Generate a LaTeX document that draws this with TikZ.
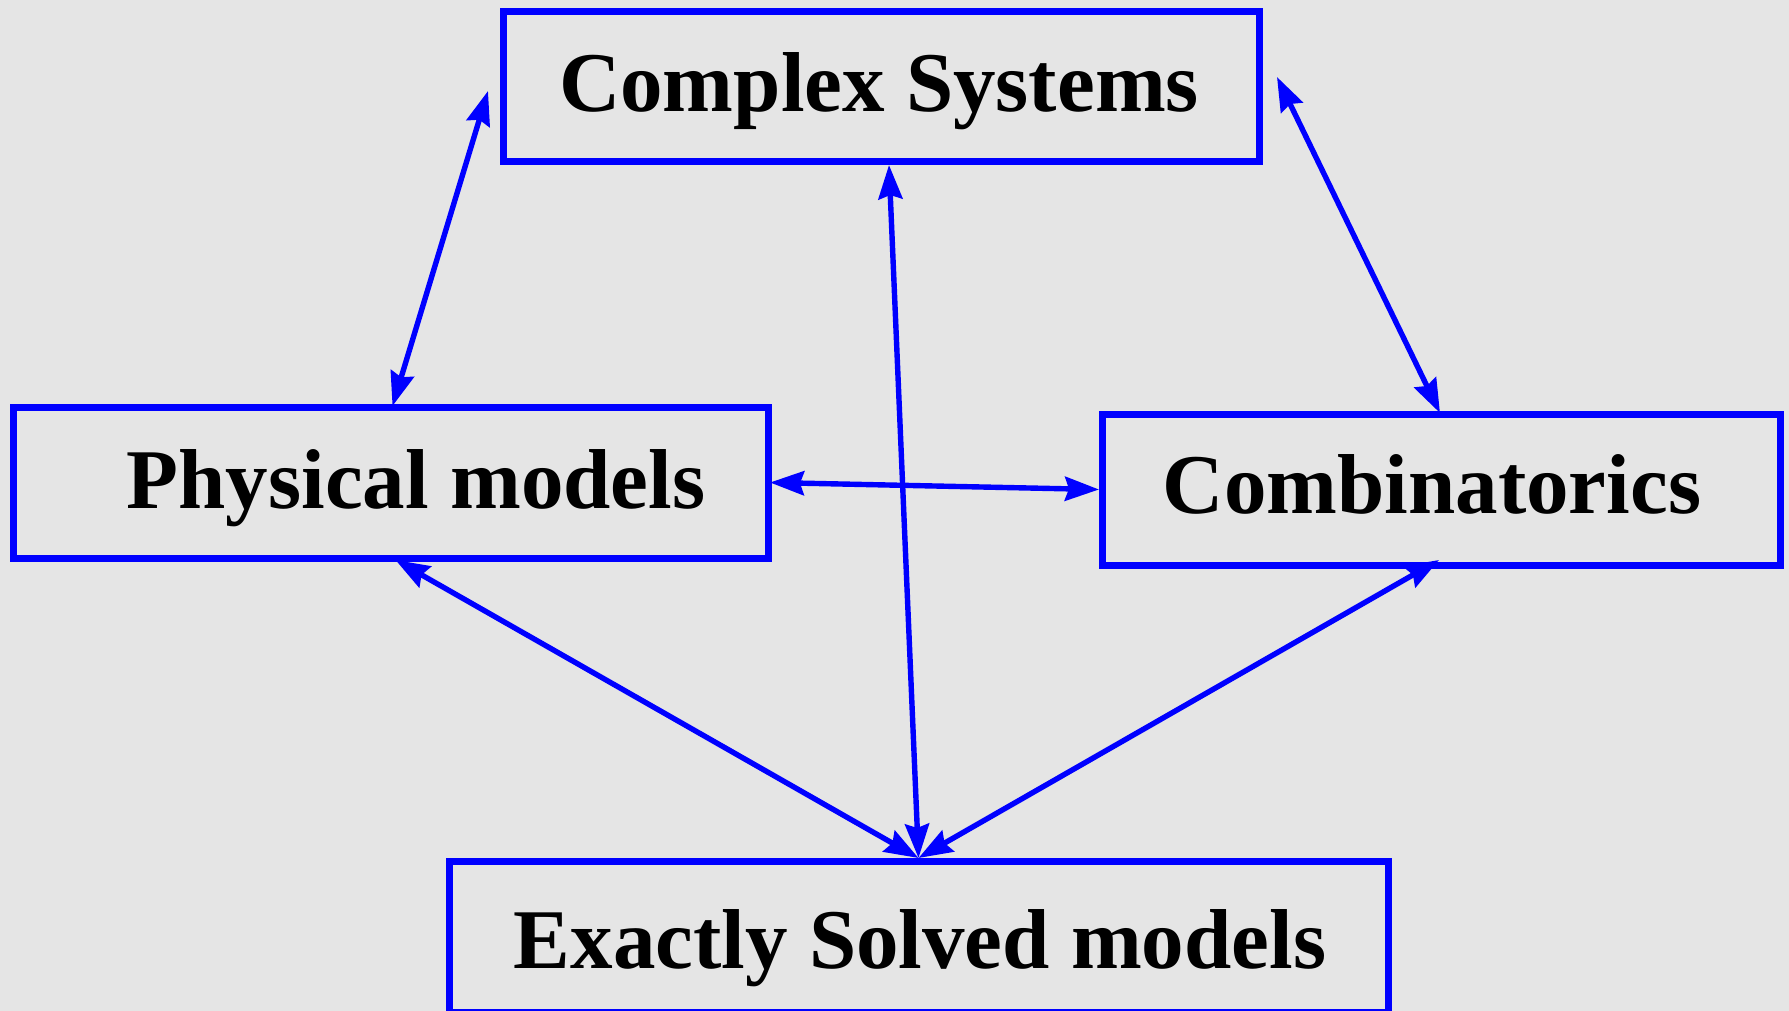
\documentclass[tikz,border=0pt]{standalone}
\usepackage{fontspec}
\setmainfont{Liberation Serif}
\usetikzlibrary{arrows.meta,calc}
\definecolor{bgcol}{RGB}{229,229,229}
\definecolor{boxblue}{RGB}{0,0,255}
\tikzset{
  cbox/.style={draw=boxblue, line width=3.5pt, rectangle, outer sep=0pt, inner sep=0pt},
  lbl/.style={font=\fontsize{42.5}{50}\selectfont\bfseries, text=black, inner sep=0pt, anchor=base},
  link/.style={draw=boxblue, line width=2.7pt, {Stealth[length=17pt,width=12pt,inset=2pt]}-{Stealth[length=17pt,width=12pt,inset=2pt]}}
}
\begin{document}
\begin{tikzpicture}[x=0.5pt,y=-0.5pt]
  \fill[bgcol] (0,0) rectangle (1789,1011);
  \useasboundingbox (0,0) rectangle (1789,1011);

  \node[cbox, minimum width=378pt, minimum height=75pt] (cs) at (881,87) {};
  \node[cbox, minimum width=377.5pt, minimum height=75.5pt] (pm) at (390.5,482.5) {};
  \node[cbox, minimum width=339pt, minimum height=75.5pt] (cb) at (1441,489.5) {};
  \node[cbox, minimum width=469.5pt, minimum height=75.5pt] (esm) at (918.5,936.5) {};

  \node[lbl] (cst) at (879,112) {Complex Systems};
  \node[lbl] (pmt) at (416,508) {Physical models};
  \node[lbl] (cbt) at (1432,513) {Combinatorics};
  \node[lbl] (esmt) at (920,968) {Exactly Solved models};

  \draw[link] ($(cs.west)+(-15,4)$) -- ($(pm.north)+(2,-1)$);
  \draw[link] ($(cs.south)+(8,3)$) -- ($(esm.north)+(0,-3)$);
  \draw[link] ($(cs.east)+(18,-10)$) -- ($(cb.north)+(-1,-1)$);
  \draw[link] ($(pm.east)+(2,0)$) -- ($(cb.west)+(-3,0)$);
  \draw[link] ($(pm.south)+(5,2)$) -- ($(esm.north)+(0,-3)$);
  \draw[link] ($(cb.south)+(-2,-5)$) -- ($(esm.north)+(0,-3)$);
\end{tikzpicture}
\end{document}
